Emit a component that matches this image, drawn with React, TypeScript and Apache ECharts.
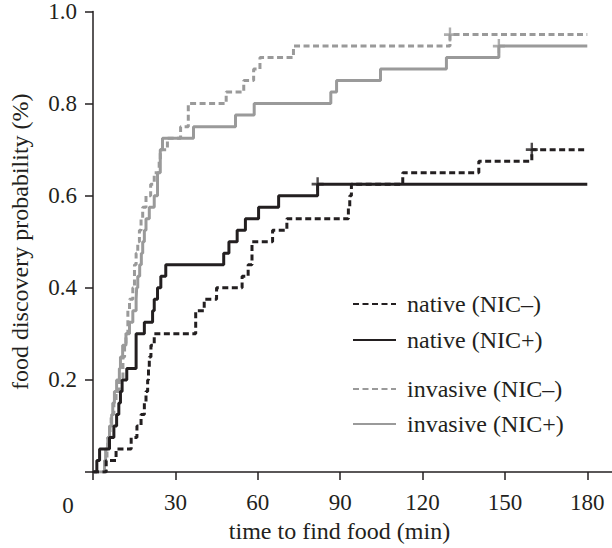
import React, { useEffect, useRef } from "react";
import * as echarts from "echarts";

// Kaplan–Meier style step data: [time (min), cumulative probability]
const nativeMinus: number[][] = [
  [0, 0], [4.8, 0.025], [8.4, 0.05], [13.9, 0.075], [16.0, 0.1], [17.5, 0.125], [18.7, 0.15],
  [19.3, 0.175], [19.9, 0.2], [20.2, 0.225], [20.5, 0.25], [21.1, 0.275], [22.3, 0.3],
  [37.4, 0.325], [37.4, 0.35], [40.5, 0.375], [45.0, 0.4], [54.3, 0.425], [56.5, 0.45],
  [57.9, 0.475], [57.9, 0.5], [65.4, 0.525], [70.6, 0.55], [93.0, 0.575], [93.5, 0.6],
  [94.1, 0.625], [112.8, 0.65], [140.5, 0.675], [159.8, 0.7], [180, 0.7],
];
const nativePlus: number[][] = [
  [0, 0], [1.4, 0.025], [2.4, 0.05], [6.0, 0.075], [7.6, 0.1], [8.6, 0.125], [9.4, 0.15],
  [10.0, 0.175], [10.6, 0.2], [12.3, 0.225], [15.7, 0.25], [15.7, 0.275], [15.7, 0.3],
  [18.7, 0.325], [21.7, 0.35], [22.3, 0.375], [23.5, 0.4], [24.7, 0.425], [26.5, 0.45],
  [47.6, 0.475], [49.5, 0.5], [52.5, 0.525], [55.5, 0.55], [60.3, 0.575], [67.6, 0.6],
  [81.8, 0.625], [180, 0.625],
];
const invasiveMinus: number[][] = [
  [0, 0], [4.6, 0.025], [5.1, 0.05], [5.4, 0.075], [6.2, 0.1], [6.6, 0.125], [7.6, 0.15],
  [8.4, 0.175], [9.5, 0.2], [10.9, 0.225], [10.9, 0.25], [11.5, 0.275], [12.0, 0.3],
  [12.7, 0.325], [12.7, 0.35], [13.3, 0.375], [14.5, 0.4], [15.1, 0.425], [15.1, 0.45],
  [15.7, 0.475], [16.3, 0.5], [16.9, 0.525], [17.5, 0.55], [18.1, 0.575], [19.3, 0.6],
  [21.0, 0.625], [22.3, 0.65], [24.1, 0.675], [24.5, 0.7], [27.1, 0.725], [31.9, 0.75],
  [34.7, 0.775], [34.7, 0.8], [48.5, 0.825], [54.9, 0.85], [58.5, 0.875], [60.8, 0.9],
  [73.0, 0.925], [130.0, 0.95], [180, 0.95],
];
const invasivePlus: number[][] = [
  [0, 0], [4.2, 0.025], [4.6, 0.05], [5.4, 0.075], [6.0, 0.1], [6.8, 0.125], [7.2, 0.15],
  [7.8, 0.175], [8.6, 0.2], [9.6, 0.225], [10.0, 0.25], [10.8, 0.275], [12.0, 0.3],
  [13.3, 0.325], [14.5, 0.35], [15.7, 0.375], [15.9, 0.4], [16.3, 0.425], [17.0, 0.45],
  [17.6, 0.475], [18.1, 0.5], [18.7, 0.525], [19.3, 0.55], [20.5, 0.575], [22.3, 0.6],
  [23.5, 0.625], [23.5, 0.65], [24.5, 0.675], [24.5, 0.7], [25.3, 0.725], [36.6, 0.75],
  [51.9, 0.775], [58.7, 0.8], [86.6, 0.825], [88.7, 0.85], [104.7, 0.875], [128.7, 0.9],
  [147.8, 0.925], [180, 0.925],
];

// censoring marks (+)
const censorNativeMinus: number[][] = [[159.8, 0.7]];
const censorNativePlus: number[][] = [[81.8, 0.625]];
const censorInvasiveMinus: number[][] = [[130.0, 0.95]];
const censorInvasivePlus: number[][] = [[147.8, 0.925]];

const seriesNames = ["native (NIC–)", "native (NIC+)", "invasive (NIC–)", "invasive (NIC+)"];
const xTickValues = [0, 30, 60, 90, 120, 150, 180];
const xLabelValues = [30, 60, 90, 120, 150, 180];

const FONT = "Liberation Serif";
const INK = "#231f20";
const GREY = "#9a9a9a";
const PLUS = "path://M4,0h2v4h4v2h-4v4h-2v-4h-4v-2h4z";

export default function App() {
  const ref = useRef<HTMLDivElement>(null);
  useEffect(() => {
    if (!ref.current) return;
    const chart = echarts.init(ref.current, undefined, { renderer: "svg" });
    const lineSeries = (name: string, data: number[][], color: string, dashed: boolean) => ({
      name,
      type: "line",
      step: "end",
      data,
      symbol: "none",
      showSymbol: false,
      itemStyle: { color },
      lineStyle: { color, width: 3, type: dashed ? [6, 3.5] : "solid", cap: "butt" },
    });
    const censorSeries = (data: number[][], color: string) => ({
      type: "scatter",
      data,
      symbol: PLUS,
      symbolSize: [12, 14],
      itemStyle: { color },
      z: 5,
    });
    const legendBase = {
      orient: "vertical",
      left: 347,
      itemWidth: 43,
      itemHeight: 14,
      itemStyle: { opacity: 0 },
      textStyle: { fontFamily: FONT, fontSize: 24, color: INK, padding: [0, 0, 0, 6] },
    };
    chart.setOption({
      animation: false,
      grid: { left: 90, right: 0, top: 11, bottom: 73 },
      legend: [
        { ...legendBase, data: [seriesNames[0], seriesNames[1]], top: 287, itemGap: 12 },
        { ...legendBase, data: [seriesNames[2], seriesNames[3]], top: 372, itemGap: 11 },
      ],
      xAxis: {
        type: "value",
        min: 0,
        max: 189,
        splitLine: { show: false },
        axisLine: { show: true, onZero: false, lineStyle: { color: INK, width: 1.5 } },
        axisTick: { show: true, length: 8, lineStyle: { color: INK, width: 1.5 }, customValues: xTickValues },
        axisLabel: { customValues: xLabelValues, fontFamily: FONT, fontSize: 23, color: INK, margin: 19 },
        name: "time to find food (min)",
        nameLocation: "middle",
        nameGap: 47,
        nameTextStyle: { fontFamily: FONT, fontSize: 24, color: INK, padding: [0, 26, 0, 0] },
      },
      yAxis: {
        type: "value",
        min: 0,
        max: 1,
        interval: 0.2,
        splitLine: { show: false },
        axisLine: { show: true, onZero: false, lineStyle: { color: INK, width: 1.5 } },
        axisTick: { show: true, length: 8, lineStyle: { color: INK, width: 1.5 } },
        axisLabel: {
          fontFamily: FONT,
          fontSize: 23,
          color: INK,
          margin: 16,
          formatter: (v: number) => (v === 0 ? "" : v.toFixed(1)),
        },
        name: "food discovery probability (%)",
        nameLocation: "middle",
        nameGap: 61,
        nameRotate: 90,
        nameTextStyle: { fontFamily: FONT, fontSize: 24, color: INK },
      },
      graphic: [
        {
          type: "text",
          x: 68,
          y: 505,
          style: { text: "0", font: `23px "${FONT}"`, fill: INK, align: "center", verticalAlign: "middle" },
        },
      ],
      series: [
        lineSeries(seriesNames[2], invasiveMinus, GREY, true),
        lineSeries(seriesNames[3], invasivePlus, GREY, false),
        lineSeries(seriesNames[0], nativeMinus, INK, true),
        lineSeries(seriesNames[1], nativePlus, INK, false),
        censorSeries(censorInvasiveMinus, GREY),
        censorSeries(censorInvasivePlus, GREY),
        censorSeries(censorNativeMinus, INK),
        censorSeries(censorNativePlus, INK),
      ],
    });
    return () => chart.dispose();
  }, []);
  return <div ref={ref} style={{ position: "absolute", left: 0, top: 0, width: 612, height: 548 }} />;
}
